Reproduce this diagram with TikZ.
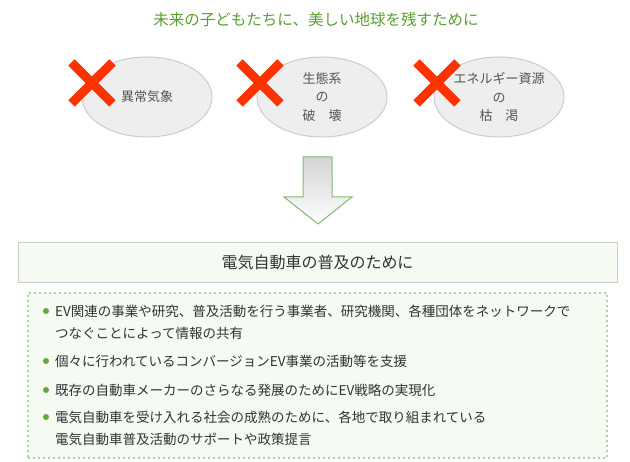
\documentclass[tikz,border=0pt]{standalone}
\usepackage{fontspec}
\setmainfont{Noto Sans CJK JP}
\usepackage{xcolor}
\definecolor{evgreen}{HTML}{5A9E32}
\definecolor{evdot}{HTML}{A8D5A0}
\definecolor{evbullet}{HTML}{5CAC38}
\definecolor{evpanel}{HTML}{F5FAF3}
\definecolor{evcloud}{HTML}{EEEEEE}
\definecolor{evcloudline}{HTML}{CCCCCC}
\definecolor{evred}{HTML}{FF3300}
\definecolor{evarrow}{HTML}{80BB70}
\definecolor{evtext}{HTML}{333333}
\definecolor{evgrey}{HTML}{555555}
\usepackage{tikz}
\usetikzlibrary{shapes.geometric,shapes.misc,calc}

\begin{document}
\begin{tikzpicture}[
  x=1pt, y=-1pt,
  cloud/.style={ellipse, draw=evcloudline, line width=1pt, fill=evcloud,
                minimum width=130pt, minimum height=80pt, inner sep=0pt,
                align=center, text=evgrey, font=\fontsize{13}{18.5}\selectfont},
  nogo/.style={cross out, draw=evred, line width=9pt, minimum size=32pt, inner sep=0pt},
  banner/.style={rectangle, draw=black!20, line width=0.8pt, fill=evpanel,
                 minimum width=599pt, minimum height=40pt,
                 text=evtext, font=\fontsize{16}{16}\selectfont},
  panel/.style={rectangle, draw=evdot, line width=2pt, dash pattern=on 2pt off 3pt,
                fill=evpanel, minimum width=579pt, minimum height=165pt},
  dot/.style={circle, fill=evbullet, inner sep=0pt, minimum size=6pt},
  item/.style={anchor=west, align=left, inner sep=0pt, text=evtext,
               font=\fontsize{13.5}{22}\selectfont},
]
\useasboundingbox (0,0) rectangle (630,462);

% ---------- headline
\node[text=evgreen, font=\fontsize{15.5}{15.5}\selectfont] (title) at (316,20)
  {未来の子どもたちに、美しい地球を残すために};

% ---------- three threats, each crossed out
\node[cloud] (c1) at (147,97) {異常気象};
\node[cloud] (c2) at (322,97) {生態系\\の\\破\hspace{1em}壊};
\node[cloud] (c3) at (499,97) {エネルギー資源\\の\\枯\hspace{1em}渇};
\node[nogo] (x1) at (92,83)  {};
\node[nogo] (x2) at (260,83) {};
\node[nogo] (x3) at (437,83) {};

% ---------- down arrow
\shadedraw[top color=black!17, bottom color=white, draw=evarrow, line width=1pt, line join=miter]
  (303,157) -- (332,157) -- (332,197) -- (352,197) -- (318,224)
  -- (284,197) -- (303,197) -- cycle;

% ---------- goal and actions
\node[banner] (goal) at (317.5,262) {電気自動車の普及のために};
\node[panel] (acts) at (317.5,375.5) {};

\node[dot] (b1) at (46,311) {};
\node[dot] (b2) at (46,361) {};
\node[dot] (b3) at (46,390) {};
\node[dot] (b4) at (46,417) {};
\node[item] (t1) at (55,322)
  {EV関連の事業や研究、普及活動を行う事業者、研究機関、各種団体をネットワークで\\つなぐことによって情報の共有};
\node[item] (t2) at (55,361) {個々に行われているコンバージョンEV事業の活動等を支援};
\node[item] (t3) at (55,390) {既存の自動車メーカーのさらなる発展のためにEV戦略の実現化};
\node[item] (t4) at (55,428)
  {電気自動車を受け入れる社会の成熟のために、各地で取り組まれている\\電気自動車普及活動のサポートや政策提言};
\end{tikzpicture}
\end{document}
